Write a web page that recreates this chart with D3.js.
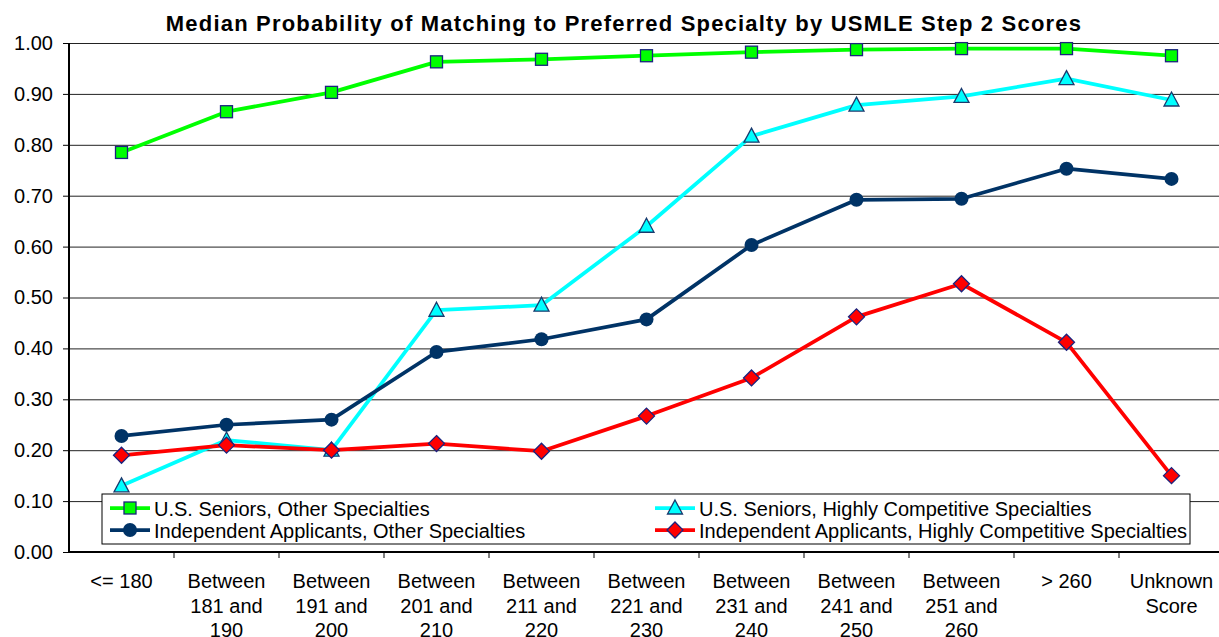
<!DOCTYPE html>
<html>
<head>
<meta charset="utf-8">
<script src="https://cdn.jsdelivr.net/npm/d3@7"></script>
<style>
    body { margin: 0; background: #fff; }
    svg { display: block; font-family: "Liberation Sans", Arial, sans-serif; }
</style>
</head>
<body>
<div id="chart"></div>
<script>
// categories (score bands), each label split into lines
const categories = ['<= 180', 'Between 181 and 190', 'Between 191 and 200', 'Between 201 and 210',
    'Between 211 and 220', 'Between 221 and 230', 'Between 231 and 240', 'Between 241 and 250',
    'Between 251 and 260', '> 260', 'Unknown Score'];
const categoryLines = [['<= 180'], ['Between', '181 and', '190'], ['Between', '191 and', '200'],
    ['Between', '201 and', '210'], ['Between', '211 and', '220'], ['Between', '221 and', '230'],
    ['Between', '231 and', '240'], ['Between', '241 and', '250'], ['Between', '251 and', '260'],
    ['> 260'], ['Unknown', 'Score']];

const seniorsOther = [0.785, 0.865, 0.903, 0.963, 0.968, 0.975, 0.982, 0.987, 0.989, 0.989, 0.975];
const seniorsCompetitive = [0.130, 0.220, 0.200, 0.475, 0.485, 0.640, 0.817, 0.878, 0.895, 0.930, 0.888];
const independentOther = [0.228, 0.250, 0.260, 0.393, 0.418, 0.457, 0.603, 0.692, 0.694, 0.753, 0.733];
const independentCompetitive = [0.190, 0.210, 0.200, 0.213, 0.198, 0.267, 0.342, 0.462, 0.527, 0.412, 0.150];

const yTicks = [0, 0.1, 0.2, 0.3, 0.4, 0.5, 0.6, 0.7, 0.8, 0.9, 1.0];

const series = [
    { name: 'U.S. Seniors, Other Specialties', values: seniorsOther, color: '#00ff00', marker: 'square' },
    { name: 'U.S. Seniors, Highly Competitive Specialties', values: seniorsCompetitive, color: '#00ffff', marker: 'triangle' },
    { name: 'Independent Applicants, Other Specialties', values: independentOther, color: '#003366', marker: 'circle' },
    { name: 'Independent Applicants, Highly Competitive Specialties', values: independentCompetitive, color: '#ff0000', marker: 'diamond' }
];

const width = 1219, height = 637;
const margin = { top: 43, left: 69, bottom: 85 };
const plotRight = 1224;

const svg = d3.select('#chart').append('svg')
    .attr('width', width)
    .attr('height', height);

const x = d3.scaleBand().domain(categories).range([margin.left, plotRight]).padding(0);
const y = d3.scaleLinear().domain([0, 1]).range([height - margin.bottom, margin.top]);

// title
svg.append('text')
    .attr('x', 624)
    .attr('y', 31)
    .attr('text-anchor', 'middle')
    .style('font-size', '22px')
    .style('font-weight', 'bold')
    .style('letter-spacing', '1.2px')
    .text('Median Probability of Matching to Preferred Specialty by USMLE Step 2 Scores');

// gridlines
svg.append('g')
    .attr('class', 'grid')
    .attr('transform', 'translate(' + margin.left + ',0)')
    .call(d3.axisLeft(y).tickValues(yTicks).tickSize(-(plotRight - margin.left)).tickFormat(''))
    .call(g => g.select('.domain').remove())
    .selectAll('line')
    .style('stroke', '#222')
    .style('stroke-width', 1);

// y axis
const yAxis = svg.append('g')
    .attr('transform', 'translate(' + margin.left + ',0)')
    .call(d3.axisLeft(y).tickValues(yTicks).tickSize(6).tickPadding(10).tickFormat(d3.format('.2f')));
yAxis.select('.domain').attr('d', 'M0,' + y(0) + 'V' + y(1)).style('stroke', '#000').style('stroke-width', 2);
yAxis.selectAll('text').style('font-size', '20px').style('fill', '#000');

// x axis: labels centred in each band, ticks on band boundaries
const xAxis = svg.append('g').attr('transform', 'translate(0,' + y(0) + ')');
xAxis.append('line')
    .attr('x1', margin.left).attr('x2', plotRight)
    .style('stroke', '#000').style('stroke-width', 2);
xAxis.selectAll('line.tick')
    .data(categories.slice(1))
    .enter()
    .append('line')
    .attr('class', 'tick')
    .attr('x1', d => x(d)).attr('x2', d => x(d))
    .attr('y1', 0).attr('y2', 6)
    .style('stroke', '#000');
xAxis.selectAll('text.label')
    .data(categories)
    .enter()
    .append('text')
    .attr('class', 'label')
    .attr('x', d => x(d) + x.bandwidth() / 2)
    .attr('y', 36)
    .attr('text-anchor', 'middle')
    .style('font-size', '20px')
    .each(function (d, i) {
        d3.select(this).selectAll('tspan')
            .data(categoryLines[i])
            .enter()
            .append('tspan')
            .attr('x', x(d) + x.bandwidth() / 2)
            .attr('dy', (t, j) => j === 0 ? 0 : 24.5)
            .text(t => t);
    });

// markers
function drawMarker(sel, kind, color) {
    if (kind === 'square') {
        sel.append('rect').attr('x', -6).attr('y', -6).attr('width', 12).attr('height', 12)
            .style('fill', color).style('stroke', '#1a237e').style('stroke-width', 1.3);
    } else if (kind === 'triangle') {
        sel.append('path').attr('d', 'M0,-8L7.5,6L-7.5,6Z')
            .style('fill', color).style('stroke', '#1a3a6e').style('stroke-width', 1.3);
    } else if (kind === 'circle') {
        sel.append('circle').attr('r', 7).style('fill', color);
    } else {
        sel.append('path').attr('d', 'M0,-8L8,0L0,8L-8,0Z')
            .style('fill', color).style('stroke', '#1a237e').style('stroke-width', 1.3);
    }
}

const line = d3.line()
    .x((d, i) => x(categories[i]) + x.bandwidth() / 2)
    .y(d => y(d));

const seriesG = svg.selectAll('g.series')
    .data(series)
    .enter()
    .append('g')
    .attr('class', 'series');

seriesG.append('path')
    .attr('d', d => line(d.values))
    .style('fill', 'none')
    .style('stroke', d => d.color)
    .style('stroke-width', 3.75)
    .style('stroke-linejoin', 'round');

seriesG.each(function (s) {
    d3.select(this).selectAll('g.pt')
        .data(s.values)
        .enter()
        .append('g')
        .attr('class', 'pt')
        .attr('transform', (d, i) => 'translate(' + (x(categories[i]) + x.bandwidth() / 2) + ',' + y(d) + ')')
        .each(function () { drawMarker(d3.select(this), s.marker, s.color); });
});

// legend
const legend = svg.append('g').attr('class', 'legend');
legend.append('rect')
    .attr('x', 102).attr('y', 494).attr('width', 1088).attr('height', 50)
    .style('fill', '#fff').style('stroke', '#000').style('stroke-width', 1);

const legendPos = [[110, 508], [655, 508], [110, 530], [655, 530]];
series.forEach(function (s, i) {
    let g = legend.append('g').attr('transform', 'translate(' + legendPos[i][0] + ',' + legendPos[i][1] + ')');
    g.append('line').attr('x1', 0).attr('x2', 40).attr('y1', 0).attr('y2', 0)
        .style('stroke', s.color).style('stroke-width', 3.75);
    drawMarker(g.append('g').attr('transform', 'translate(20,0)'), s.marker, s.color);
    g.append('text').attr('x', 44).attr('y', 7.5)
        .style('font-size', '20px')
        .text(s.name);
});
</script>
</body>
</html>
